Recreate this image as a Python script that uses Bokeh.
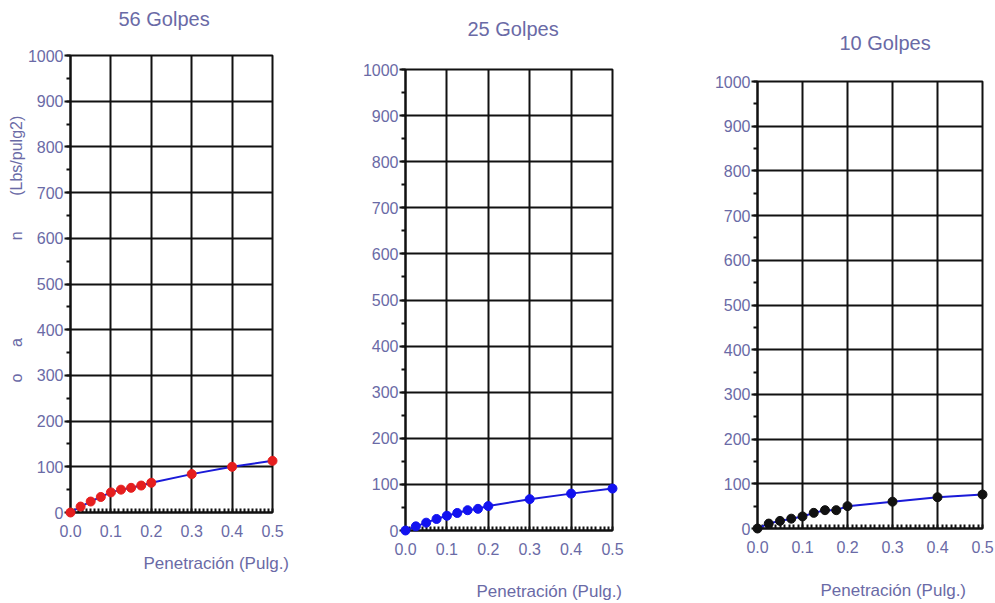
from bokeh.plotting import figure
from bokeh.layouts import row
from bokeh.models import SingleIntervalTicker, PrintfTickFormatter, Range1d, Title
from bokeh.embed import file_html
from bokeh.resources import INLINE

# ---- data ----
penetration = [0.0, 0.025, 0.05, 0.075, 0.1, 0.125, 0.15, 0.175, 0.2, 0.3, 0.4, 0.5]
load_56 = [0, 13, 24, 34, 44, 50, 54, 59, 65, 84, 100, 113]
load_25 = [0, 9, 17, 25, 32, 38, 44, 47, 53, 68, 80, 91]
load_10 = [0, 11, 17, 22, 27, 35, 41, 41, 50, 60, 70, 76]
titles = ["56 Golpes", "25 Golpes", "10 Golpes"]
x_label = "Penetración (Pulg.)"
marker_colors = ["#e51e1e", "#1212f0", "#111111"]

TXT = "#6a6aa6"
FONT = "Liberation Sans"
NB = "\u00a0"


def make(load, title, mcolor, fw, fh, bl, bt, bb, br, t_off, t_stand, x_off, x_stand):
    p = figure(frame_width=fw, frame_height=fh, min_border_left=bl, min_border_top=bt,
               min_border_bottom=bb, min_border_right=br, output_backend="svg",
               toolbar_location=None, x_range=Range1d(0, 0.5), y_range=Range1d(0, 1000))
    p.frame_align = False
    p.outline_line_color = "#111111"
    p.outline_line_width = 2
    p.background_fill_color = "white"
    p.border_fill_color = "white"

    p.xaxis.ticker = SingleIntervalTicker(interval=0.1, num_minor_ticks=10)
    p.yaxis.ticker = SingleIntervalTicker(interval=100, num_minor_ticks=2)
    p.xaxis.formatter = PrintfTickFormatter(format="%.1f")
    for ax in (p.xaxis, p.yaxis):
        ax.axis_line_color = "#111111"
        ax.axis_line_width = 2
        ax.major_tick_line_color = "#111111"
        ax.major_tick_line_width = 2
        ax.minor_tick_line_color = "#111111"
        ax.minor_tick_line_width = 2
        ax.major_label_text_color = TXT
        ax.major_label_text_font = FONT
        ax.major_label_text_font_size = "16px"
    p.xaxis.major_tick_in = 0
    p.xaxis.major_tick_out = 0
    p.xaxis.minor_tick_in = 4
    p.xaxis.minor_tick_out = 0
    p.xaxis.major_label_standoff = 12
    p.yaxis.major_tick_in = 0
    p.yaxis.major_tick_out = 6
    p.yaxis.minor_tick_in = 0
    p.yaxis.minor_tick_out = 4
    p.yaxis.major_label_standoff = 1

    p.xgrid.grid_line_color = "#111111"
    p.ygrid.grid_line_color = "#111111"
    p.xgrid.grid_line_width = 2
    p.ygrid.grid_line_width = 2

    p.line(penetration, load, line_color="#1a1ad8", line_width=2, level="overlay")
    p.scatter(penetration, load, size=9, fill_color=mcolor, line_color=mcolor, level="overlay")

    p.title = Title(text=title, align="left", offset=t_off, standoff=t_stand,
                    vertical_align="top", text_color=TXT, text_font=FONT,
                    text_font_size="20px", text_font_style="normal")
    p.add_layout(Title(text=x_label, align="left", offset=x_off, standoff=x_stand,
                       text_color=TXT, text_font=FONT, text_font_size="17px",
                       text_font_style="normal"), "below")
    return p


# a blank second title line lifts the title within the fixed top border
p1 = make(load_56, titles[0] + "\n" + NB, marker_colors[0], 202, 457, 70, 55, 88, 58,
          48, 4, 73, 24)
# remnants of the rotated y-axis title in the first chart
ylab = "o" + NB * 6 + "a" + NB * 22 + "n" + NB * 8 + "(Lbs/pulg2)"
p1.add_layout(Title(text=ylab, align="left", offset=130, standoff=0, text_color=TXT,
                    text_font=FONT, text_font_size="16px", text_font_style="normal"), "left")

p2 = make(load_25, titles[1] + "\n" + NB, marker_colors[1], 207, 461, 75, 69, 70, 48,
          62, 11, 71, 44)
p3 = make(load_10, titles[2], marker_colors[2], 225, 447, 97, 81, 72, 12, 82, 51, 63, 46)

layout = row(p1, p2, p3)
open("out.html", "w").write(file_html(layout, INLINE))
